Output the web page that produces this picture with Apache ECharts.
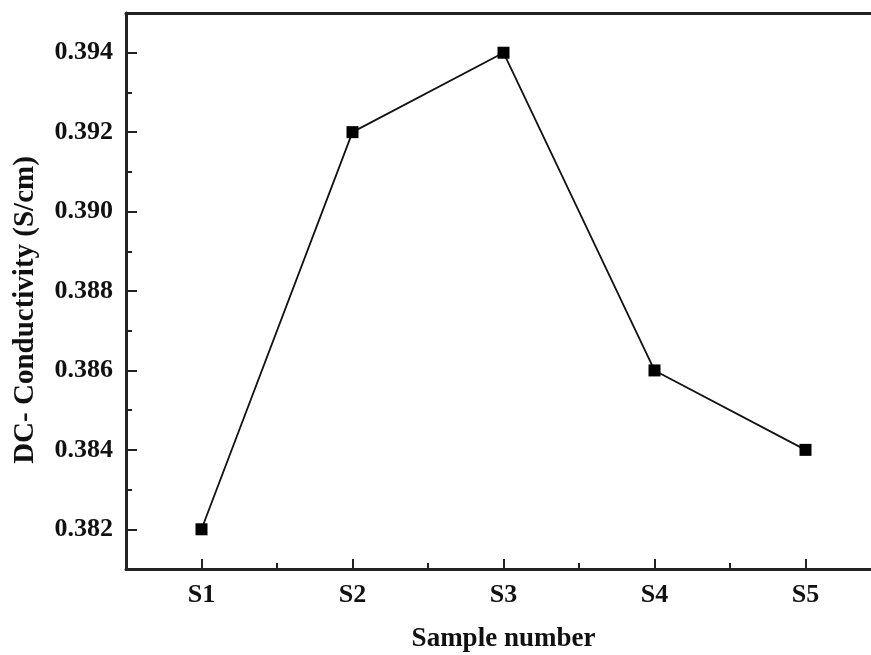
<!DOCTYPE html>
<html>
<head>
<meta charset="utf-8">
<script src="https://cdn.jsdelivr.net/npm/echarts@6/dist/echarts.min.js"></script>
<style>
  html, body { margin: 0; padding: 0; background: #fff; }
  #chart { width: 871px; height: 655px; }
</style>
</head>
<body>
<div id="chart"></div>
<script>
  // data
  const samples = ['S1', 'S2', 'S3', 'S4', 'S5']
  const conductivity = [0.382, 0.392, 0.394, 0.386, 0.384]
  const yMajorTicks = [0.382, 0.384, 0.386, 0.388, 0.390, 0.392, 0.394]
  const yMinorTicks = [0.383, 0.385, 0.387, 0.389, 0.391, 0.393]

  const font = 'Liberation Serif'
  const axisColor = '#222'

  const chart = echarts.init(document.getElementById('chart'))
  const option = {
    animation: false,
    grid: {
      left: 126,
      right: -10,
      top: 13,
      bottom: 86,
      containLabel: false,
      outerBoundsMode: 'none'
    },
    xAxis: [{
        type: 'category',
        data: samples,
        boundaryGap: true,
        name: 'Sample number',
        nameLocation: 'middle',
        nameGap: 57,
        nameTextStyle: {
          fontFamily: font,
          fontWeight: 'bold',
          fontSize: 27,
          color: '#111'
        },
        axisLine: {
          lineStyle: { color: axisColor, width: 3 }
        },
        axisTick: {
          show: true,
          alignWithLabel: true,
          inside: true,
          length: 10,
          lineStyle: { color: axisColor, width: 2 }
        },
        axisLabel: {
          margin: 13,
          fontFamily: font,
          fontWeight: 'bold',
          fontSize: 26,
          color: '#111'
        }
      },
      {
        // minor ticks between samples
        type: 'category',
        data: samples,
        position: 'bottom',
        boundaryGap: true,
        axisLine: { show: false },
        axisLabel: { show: false },
        axisTick: {
          show: true,
          inside: true,
          length: 6,
          lineStyle: { color: axisColor, width: 2 }
        }
      },
      {
        // top frame line
        type: 'category',
        data: samples,
        position: 'top',
        axisLine: {
          lineStyle: { color: axisColor, width: 3 }
        },
        axisTick: { show: false },
        axisLabel: { show: false }
      }
    ],
    yAxis: [{
        type: 'value',
        min: 0.381,
        max: 0.395,
        name: 'DC- Conductivity (S/cm)',
        nameLocation: 'middle',
        nameGap: 86,
        nameTextStyle: {
          fontFamily: font,
          fontWeight: 'bold',
          fontSize: 29,
          color: '#111',
          padding: [0, 38, 0, 0]
        },
        splitLine: { show: false },
        axisLine: {
          show: true,
          lineStyle: { color: axisColor, width: 3 }
        },
        axisTick: {
          show: true,
          inside: true,
          length: 11,
          customValues: yMajorTicks,
          lineStyle: { color: axisColor, width: 2 }
        },
        axisLabel: {
          customValues: yMajorTicks,
          margin: 13,
          fontFamily: font,
          fontWeight: 'bold',
          fontSize: 26,
          color: '#111',
          formatter: v => v.toFixed(3)
        }
      },
      {
        // minor ticks
        type: 'value',
        min: 0.381,
        max: 0.395,
        position: 'left',
        splitLine: { show: false },
        axisLine: { show: false },
        axisLabel: { show: false },
        axisTick: {
          show: true,
          inside: true,
          length: 6,
          customValues: yMinorTicks,
          lineStyle: { color: axisColor, width: 2 }
        }
      }
    ],
    series: [{
      type: 'line',
      data: conductivity,
      symbol: 'rect',
      symbolSize: 12,
      itemStyle: { color: '#000' },
      lineStyle: { color: '#111', width: 1.8 }
    }]
  }
  chart.setOption(option)
</script>
</body>
</html>
